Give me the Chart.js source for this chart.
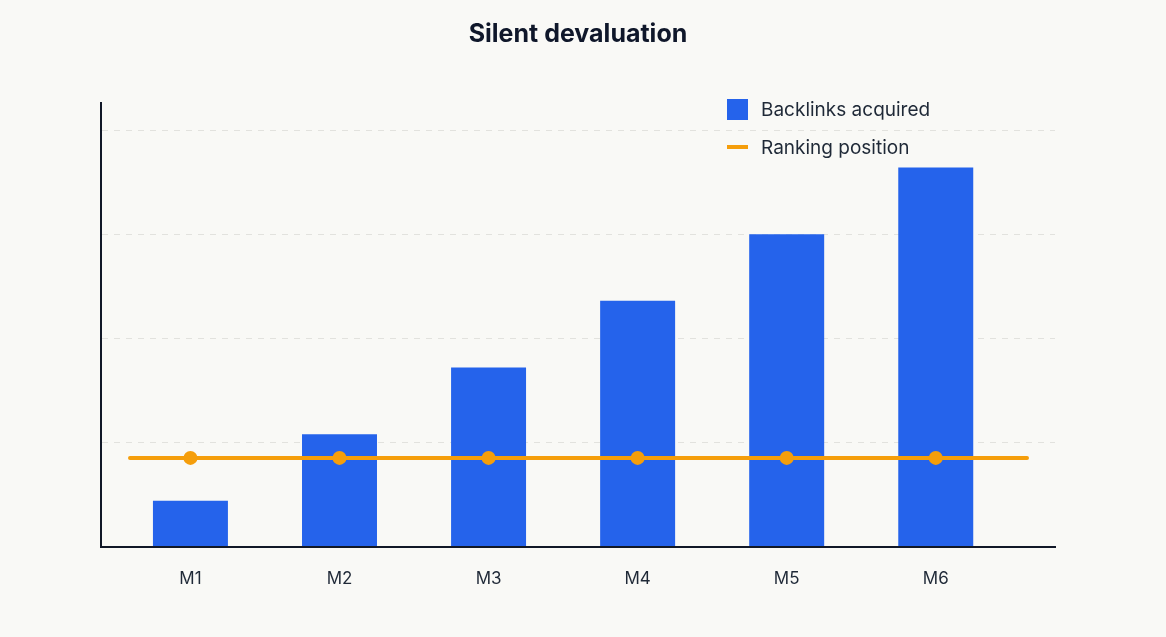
<!DOCTYPE html>
<html>
<head>
<meta charset="utf-8">
<script src="https://cdn.jsdelivr.net/npm/chart.js@4"></script>
<style>
  html, body { margin: 0; padding: 0; background: #f9f9f6; }
  body { width: 1166px; height: 637px; position: relative; font-family: Inter, "Noto Sans", sans-serif; }
  #wrap { position: absolute; left: 0; top: 0; width: 1166px; height: 637px; }
  #legend { position: absolute; left: 727px; top: 90px; font-family: Inter, sans-serif; font-size: 19px; color: #1f2937; }
  #legend .item { height: 38px; display: flex; align-items: center; }
  #legend .swatch { width: 21px; margin-right: 13px; }
</style>
</head>
<body>
<div id="wrap"><canvas id="devaluationChart"></canvas></div>
<div id="legend"></div>
<script>
const months = ['M1', 'M2', 'M3', 'M4', 'M5', 'M6'];
const backlinks = [22, 54, 86, 118, 150, 182];
const ranking = [10, 10, 10, 10, 10, 10];

const blue = '#2563eb';
const orange = '#f59e0b';

// stretch the flat ranking line out towards the edges of the plot
const extendLine = {
  id: 'extendLine',
  beforeDatasetDraw(chart, args) {
    if (args.index !== 1) return;
    const pts = chart.getDatasetMeta(1).data;
    const area = chart.chartArea;
    const ctx = chart.ctx;
    ctx.save();
    ctx.strokeStyle = orange;
    ctx.lineWidth = 4;
    ctx.lineCap = 'round';
    ctx.beginPath();
    ctx.moveTo(area.left + 29, pts[0].y);
    ctx.lineTo(pts[0].x, pts[0].y);
    ctx.moveTo(pts[pts.length - 1].x, pts[pts.length - 1].y);
    ctx.lineTo(area.right - 28, pts[pts.length - 1].y);
    ctx.stroke();
    ctx.restore();
  }
};

const ctx = document.getElementById('devaluationChart');

const chart = new Chart(ctx, {
  type: 'bar',
  data: {
    datasets: [{
      label: 'Backlinks acquired',
      data: backlinks.map((v, i) => ({ x: i, y: v })),
      backgroundColor: blue,
      borderWidth: 0,
      categoryPercentage: 1,
      barPercentage: 0.503,
      yAxisID: 'y',
      order: 2
    }, {
      type: 'line',
      label: 'Ranking position',
      data: ranking.map((v, i) => ({ x: i, y: v })),
      borderColor: orange,
      backgroundColor: orange,
      borderWidth: 4,
      pointRadius: 7,
      pointHoverRadius: 7,
      pointBorderWidth: 0,
      yAxisID: 'y1',
      order: 1
    }]
  },
  options: {
    responsive: true,
    maintainAspectRatio: false,
    animation: false,
    layout: { padding: { left: 101, right: 111, top: 0, bottom: 34 } },
    plugins: {
      legend: { display: false },
      tooltip: { enabled: false },
      title: {
        display: true,
        text: 'Silent devaluation',
        color: '#0f172a',
        font: { family: 'Inter', size: 25, weight: 'bold' },
        padding: { top: 19, bottom: 54 }
      }
    },
    scales: {
      x: {
        type: 'linear',
        offset: false,
        min: -0.6,
        max: 5.8,
        afterBuildTicks: axis => {
          axis.ticks = months.map((m, i) => ({ value: i }));
        },
        ticks: {
          color: '#1f2937',
          font: { family: 'Inter', size: 17 },
          padding: 14,
          callback: v => months[v]
        },
        grid: { display: false },
        border: { display: true, color: '#111827', width: 2 }
      },
      y: {
        min: 0,
        max: 213,
        afterBuildTicks: axis => {
          axis.ticks = axis.ticks.filter(t => t.value % 50 === 0);
        },
        ticks: { display: false, stepSize: 50 },
        grid: { color: '#e2e2de', lineWidth: 1, drawTicks: false },
        border: { display: true, color: '#111827', width: 2, dash: [6, 6] }
      },
      y1: {
        display: false,
        min: 0,
        max: 50
      }
    }
  },
  plugins: [extendLine]
});

// legend built from the chart's datasets
const legendBox = document.getElementById('legend');
chart.data.datasets.forEach(ds => {
  const item = document.createElement('div');
  item.className = 'item';
  const sw = document.createElement('span');
  sw.className = 'swatch';
  if (ds.type === 'line') {
    sw.style.height = '4px';
    sw.style.background = ds.borderColor;
  } else {
    sw.style.height = '21px';
    sw.style.background = ds.backgroundColor;
  }
  const txt = document.createElement('span');
  txt.textContent = ds.label;
  item.appendChild(sw);
  item.appendChild(txt);
  legendBox.appendChild(item);
});
</script>
</body>
</html>
